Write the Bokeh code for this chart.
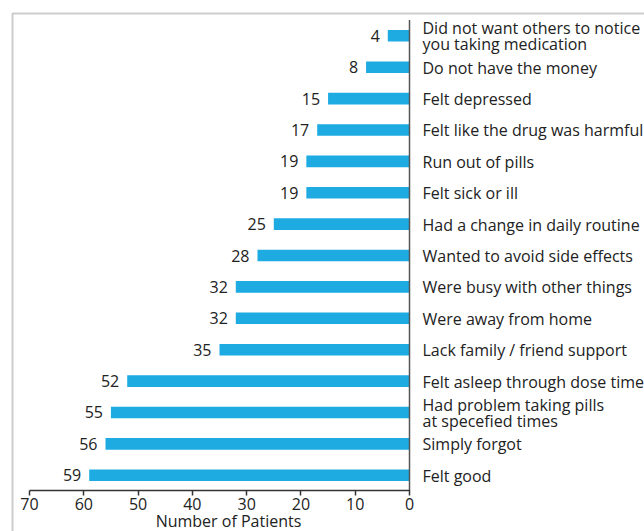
from bokeh.plotting import figure
from bokeh.models import Range1d, FixedTicker, Label, BoxAnnotation
from bokeh.core.properties import value
from bokeh.embed import file_html
from bokeh.resources import INLINE

categories = [
    "Did not want others to notice\nyou taking medication",
    "Do not have the money",
    "Felt depressed",
    "Felt like the drug was harmful",
    "Run out of pills",
    "Felt sick or ill",
    "Had a change in daily routine",
    "Wanted to avoid side effects",
    "Were busy with other things",
    "Were away from home",
    "Lack family / friend support",
    "Felt asleep through dose times",
    "Had problem taking pills\nat specefied times",
    "Simply forgot",
    "Felt good",
]
patients = [4, 8, 15, 17, 19, 19, 25, 28, 32, 32, 35, 52, 55, 56, 59]
x_ticks = [0, 10, 20, 30, 40, 50, 60, 70]
x_title = "Number of Patients"

FONT = value("Open Sans")
TXT = "#222222"
BAR = "#1DABE2"

# canvas / frame geometry (pixels)
W, H = 644, 600
LEFT, TOP, BOTTOM = 8, 8, 40
BOX_LEFT_PX, BOX_TOP_PX = 12, 13
X70_PX, X0_PX = 29, 409          # pixel positions of 70 and 0
ROW_PX = 31.39                   # spacing between bars
FIRST_ROW_PX = 35.3              # centre of the top bar
TITLE_X_PX, TITLE_MID_PX = 228, 520.5

n = len(categories)
ypos = [n - i for i in range(n)]  # top category gets the largest value

ppu_x = (X0_PX - X70_PX) / max(x_ticks)
def px_to_x(px):
    return max(x_ticks) - (px - X70_PX) / ppu_x
def px_to_y(py):
    return n - (py - FIRST_ROW_PX) / ROW_PX

x_start, x_end = px_to_x(LEFT), px_to_x(W)
y_end, y_start = px_to_y(TOP), px_to_y(H - BOTTOM)

p = figure(width=W, height=H,
           x_range=Range1d(x_start, x_end),
           y_range=Range1d(y_start, y_end),
           output_backend="svg", toolbar_location=None,
           y_axis_location=None,
           min_border_left=LEFT, min_border_right=0,
           min_border_top=TOP, min_border_bottom=BOTTOM)
p.outline_line_color = None
p.xgrid.visible = False
p.ygrid.visible = False
p.background_fill_color = "white"
p.border_fill_color = "white"

# surrounding box (continues past the right and bottom edges)
p.add_layout(BoxAnnotation(left=px_to_x(BOX_LEFT_PX), top=px_to_y(BOX_TOP_PX),
                           right=px_to_x(W + 50), bottom=px_to_y(H + 50),
                           fill_alpha=0, line_color="#555555", line_width=2))

p.hbar(y=ypos, left=0, right=patients, height=0.37,
       fill_color=BAR, line_color=None)

# vertical axis rule at zero
p.segment(x0=[0], y0=[0.5], x1=[0], y1=[n + 0.5],
          line_color="#555555", line_width=1.5)

p.text(x=patients, y=ypos, text=[str(v) for v in patients],
       x_offset=-8, text_align="right", text_baseline="middle",
       text_font=FONT, text_font_size="16px", text_color=TXT)

p.text(x=[0] * n, y=ypos, text=categories,
       x_offset=13, y_offset=0.5, text_align="left", text_baseline="middle",
       text_line_height=0.72,
       text_font=FONT, text_font_size="16px", text_color=TXT)

ax = p.xaxis[0]
ax.fixed_location = 0.5
ax.ticker = FixedTicker(ticks=x_ticks)
ax.bounds = (min(x_ticks), max(x_ticks))
ax.major_tick_out = 5
ax.major_tick_in = 0
ax.minor_tick_line_color = None
ax.axis_line_color = "#333333"
ax.axis_line_width = 1.5
ax.major_tick_line_color = "#333333"
ax.major_tick_line_width = 1.5
ax.major_label_text_font = "Open Sans"
ax.major_label_text_font_size = "16px"
ax.major_label_text_color = TXT
ax.major_label_standoff = 2

p.add_layout(Label(x=px_to_x(TITLE_X_PX), y=px_to_y(TITLE_MID_PX), text=x_title,
                   text_align="center", text_baseline="middle",
                   text_font="Open Sans", text_font_size="16px", text_color=TXT))

open("out.html", "w").write(file_html(p, INLINE))
